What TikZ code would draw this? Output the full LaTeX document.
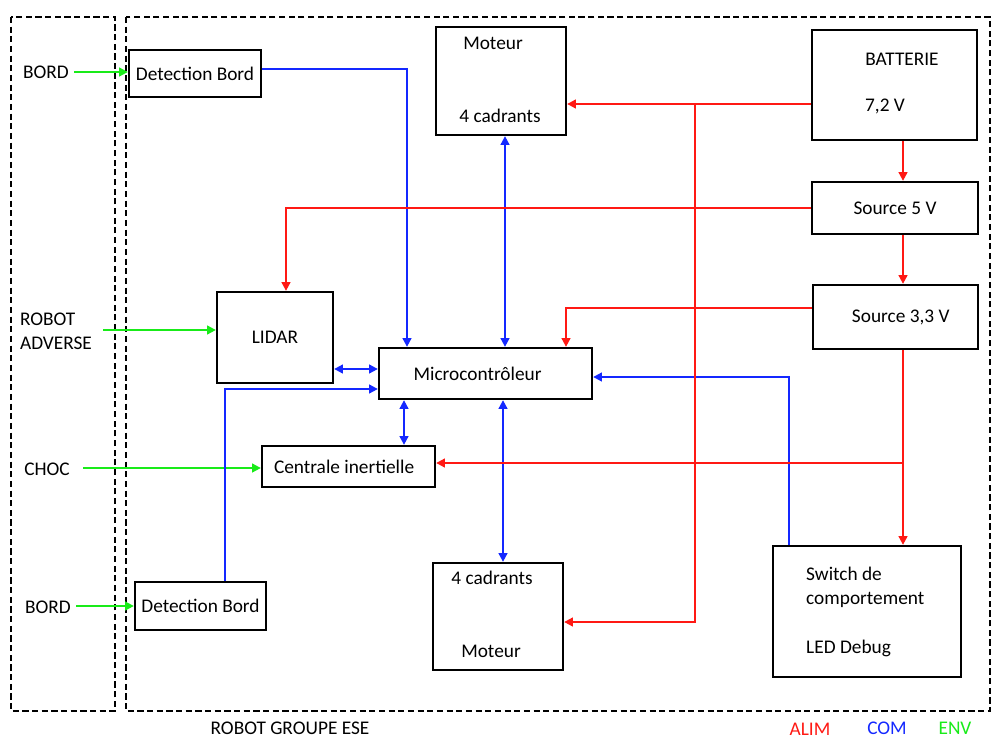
\documentclass[tikz,border=0pt]{standalone}
\usepackage{fontspec}
\setmainfont{Carlito}
\usetikzlibrary{arrows.meta}

\definecolor{alim}{RGB}{255,25,20}
\definecolor{com}{RGB}{20,40,255}
\definecolor{env}{RGB}{25,235,25}

\tikzset{
	blk/.style 2 args={draw, line width=1.3pt, inner sep=0pt,
		minimum width=#1*0.02cm, minimum height=#2*0.02cm},
	zone/.style={draw, line width=1pt, dash pattern=on 3.5pt off 2pt},
}

\begin{document}
\begin{tikzpicture}[x=0.02cm, y=-0.02cm,
	every node/.append style={font=\fontsize{11}{13.6}\selectfont}]
	\useasboundingbox (0,0) rectangle (1000,750);

	% zones
	\draw [zone] (11,17) rectangle (115,711);
	\draw [zone] (126,17) rectangle (990,711);

	\begin{scope}[every node/.style={font=\fontsize{11}{13.6}\selectfont}]
		\node [blk={132}{47}] (DB1) at (195,73.5) {Detection Bord};
		\node [blk={130}{108}] (MotH) at (501,81) {};
		\node [blk={165}{110}] (Bat) at (894.5,85) {};
		\node [blk={166}{52}] (S5) at (895,208) {Source 5 V};
		\node [blk={165}{64}] (S33) at (895.5,317) {\hspace*{6pt}Source 3,3 V};
		\node [blk={116}{91}] (LIDAR) at (275,337.5) {LIDAR};
		\node [blk={213}{51}] (Micro) at (485.5,373.5) {\hspace*{-9pt}Microcontrôleur};
		\node [blk={173}{41}] (CI) at (348.5,466.5) {\hspace*{-5pt}Centrale inertielle};
		\node [blk={131}{48}] (DB2) at (200.5,606) {Detection Bord};
		\node [blk={130}{107}] (MotB) at (498,616.5) {};
		\node [blk={188}{131}] (Sw) at (867,611.5) {};
	\end{scope}

	% textes dans les blocs
	\node (tMotH1) at (493,43) {Moteur};
	\node (tMotH2) at (500,116) {4 cadrants};
	\node (tBat1) at (902,59) {BATTERIE};
	\node (tBat2) at (885,106) {7,2 V};
	\node (tMotB1) at (492,578) {4 cadrants};
	\node (tMotB2) at (491,651) {Moteur};
	\node [anchor=west, align=left] (tSw1) at (800,587) {Switch de\\comportement};
	\node [anchor=west] (tSw2) at (800,648) {LED Debug};

	% entrees
	\node (tB1) at (46,72) {BORD};
	\node [align=left] (tRA) at (56,331) {ROBOT\\ADVERSE};
	\node (tCh) at (47,469) {CHOC};
	\node (tB2) at (48,607) {BORD};
	\node (tRob) at (290,728) {ROBOT GROUPE ESE};
	\node [text=alim] (tAlim) at (810,729) {ALIM};
	\node [text=com] (tCom) at (887,728) {COM};
	\node [text=env] (tEnv) at (955,728) {ENV};

	% guides
	\coordinate (g1) at (74,72);
	\coordinate (g2) at (103,330);
	\coordinate (g3) at (83,468);
	\coordinate (g4) at (76,606);
	\coordinate (x225) at (225,0);
	\coordinate (x286) at (286,0);
	\coordinate (x404) at (404,0);
	\coordinate (x407) at (407,0);
	\coordinate (x503) at (503,0);
	\coordinate (x505) at (505,0);
	\coordinate (x566) at (566,0);
	\coordinate (x695) at (695,104);
	\coordinate (x789) at (789,0);
	\coordinate (x903) at (903,0);
	\coordinate (y69) at (0,69);
	\coordinate (y369) at (0,369);
	\coordinate (y377) at (0,377);
	\coordinate (y389) at (0,389);
	\coordinate (y622) at (0,622);
	\coordinate (y308) at (0,308);
	\coordinate (y463) at (903,463);

	% ENV
	\begin{scope}[>={Triangle[length=5pt,width=5pt]}, draw=env, line width=1.1pt]
		\draw [->] (g1) -- (DB1.west |- g1);
		\draw [->] (g2) -- (LIDAR.west |- g2);
		\draw [->] (g3) -- (CI.west |- g3);
		\draw [->] (g4) -- (DB2.west |- g4);
	\end{scope}

	% COM
	\begin{scope}[>={Triangle[length=5pt,width=5pt]}, draw=com, line width=1.1pt,
			every edge/.style={draw=com, line width=1.1pt}]
		\draw [->] (DB1.east |- y69) -| (Micro.north -| x407);
		\path [<->] (MotH.south -| x505) edge (Micro.north -| x505);
		\path [<->] (LIDAR.east |- y369) edge (Micro.west |- y369);
		\draw [->] (DB2.north -| x225) |- (Micro.west |- y389);
		\path [<->] (Micro.south -| x404) edge (CI.north -| x404);
		\path [<->] (Micro.south -| x503) edge (MotB.north -| x503);
		\draw [->] (Sw.north -| x789) |- (Micro.east |- y377);
	\end{scope}

	% ALIM
	\begin{scope}[>={Triangle[length=5pt,width=5pt]}, draw=alim, line width=1.1pt]
		\draw [->] (Bat.west |- x695) -- (MotH.east |- x695);
		\draw [->] (x695) |- (MotB.east |- y622);
		\draw [->] (Bat.south -| x903) -- (S5.north -| x903);
		\draw [->] (S5.west) -| (LIDAR.north -| x286);
		\draw [->] (S5.south -| x903) -- (S33.north -| x903);
		\draw [->] (S33.west |- y308) -| (Micro.north -| x566);
		\draw [->] (S33.south -| x903) -- (Sw.north -| x903);
		\draw [->] (y463) -- (CI.east |- y463);
	\end{scope}
\end{tikzpicture}
\end{document}
